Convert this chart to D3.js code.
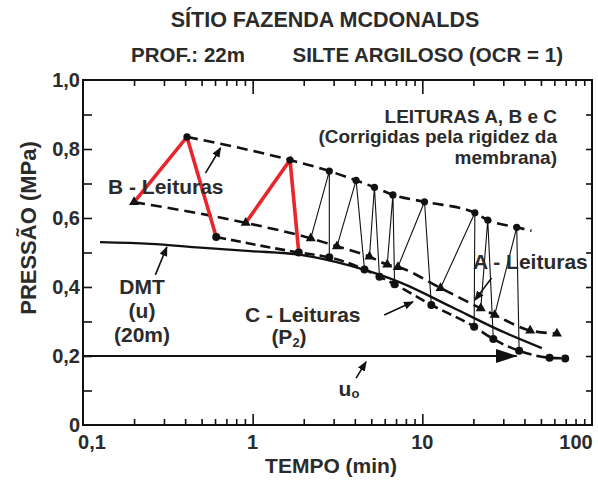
<!DOCTYPE html>
<html><head><meta charset="utf-8">
<script src="https://cdn.jsdelivr.net/npm/d3@7"></script>
<style>
body{margin:0;background:#fff}
svg{display:block}
text{font-family:"Liberation Sans",Arial,sans-serif;font-weight:bold;fill:#2b2b2b}
</style>
</head><body>
<svg id="chart" width="598" height="482"></svg>
<script>
// ---------- data ----------
const xTickValues = [0.1, 1, 10, 100];
const xTickLabels = ["0,1", "1", "10", "100"];
const yTickValues = [0, 0.2, 0.4, 0.6, 0.8, 1.0];
const yTickLabels = ["0", "0,2", "0,4", "0,6", "0,8", "1,0"];

// A readings (triangles)
const tA = [0.2, 0.91, 2.2, 3.14, 4.88, 6.21, 7.18, 12.8, 22.1, 26.7, 43.2, 62.1];
const pA = [0.646, 0.586, 0.541, 0.518, 0.488, 0.465, 0.458, 0.397, 0.338, 0.319, 0.274, 0.265];
// B readings (circles, upper curve)
const tB = [0.41, 1.66, 2.83, 4.07, 5.22, 6.71, 10.3, 20.4, 24.3, 36.0];
const pB = [0.835, 0.768, 0.736, 0.709, 0.689, 0.667, 0.647, 0.615, 0.594, 0.573];
const tBEnd = 44.0, pBEnd = 0.563;
// C readings (circles, lower curve)
const tC = [0.61, 1.87, 2.83, 4.56, 5.59, 6.86, 11.3, 20.2, 26.2, 37.2, 56.2, 69.5];
const pC = [0.545, 0.50, 0.486, 0.451, 0.430, 0.408, 0.348, 0.285, 0.249, 0.215, 0.195, 0.193];
// DMT (u) at 20 m
const tDMT = [0.126, 0.249, 0.492, 0.973, 1.92, 3.80, 7.51, 14.9, 29.3, 50.6];
const pDMT = [0.530, 0.525, 0.514, 0.504, 0.493, 0.461, 0.412, 0.342, 0.272, 0.223];
// u0 hydrostatic
const tU0 = [0.1, 36.0];
const pU0 = [0.2, 0.2];
const redCycles = 2;

// ---------- layout ----------
const svg = d3.select("#chart");
const x = d3.scaleLog().domain([0.1, 100]).range([83, 592]);
const y = d3.scaleLinear().domain([0, 1]).range([425, 80]);
const ink = "#111";

// markers
const defs = svg.append("defs");
defs.append("marker").attr("id", "ah").attr("viewBox", "0 0 10 10").attr("refX", 9).attr("refY", 5)
  .attr("markerWidth", 10).attr("markerHeight", 10).attr("markerUnits", "userSpaceOnUse").attr("orient", "auto")
  .append("path").attr("d", "M0,1 L10,5 L0,9 Z").attr("fill", ink);
defs.append("marker").attr("id", "big").attr("viewBox", "0 0 22 14").attr("refX", 21).attr("refY", 7)
  .attr("markerWidth", 22).attr("markerHeight", 14).attr("markerUnits", "userSpaceOnUse").attr("orient", "auto")
  .append("path").attr("d", "M0,0 L22,7 L0,14 Z").attr("fill", ink);

// ---------- frame & axes ----------
const minor = [];
[0.1, 1, 10].forEach(d => { for (let k = 2; k <= 9; k++) minor.push(d * k); });
const majorInner = [1, 10];
const yMinor = d3.range(1, 10).map(i => i / 10);

svg.append("rect").attr("x", x(0.1)).attr("y", y(1)).attr("width", x(100) - x(0.1)).attr("height", y(0) - y(1))
  .attr("fill", "none").attr("stroke", ink).attr("stroke-width", 2);

const axB = svg.append("g").attr("transform", `translate(0,${y(0)})`)
  .call(d3.axisBottom(x).tickValues(minor).tickSize(-6).tickFormat(""));
const axB2 = svg.append("g").attr("transform", `translate(0,${y(0)})`)
  .call(d3.axisBottom(x).tickValues(majorInner).tickSize(-11).tickFormat(""));
const axT = svg.append("g").attr("transform", `translate(0,${y(1)})`)
  .call(d3.axisTop(x).tickValues(minor).tickSize(-6).tickFormat(""));
const axT2 = svg.append("g").attr("transform", `translate(0,${y(1)})`)
  .call(d3.axisTop(x).tickValues(majorInner).tickSize(-14).tickFormat(""));
const axL = svg.append("g").attr("transform", `translate(${x(0.1)},0)`)
  .call(d3.axisLeft(y).tickValues(yMinor).tickSize(-9).tickFormat(""));
const axR = svg.append("g").attr("transform", `translate(${x(100)},0)`)
  .call(d3.axisRight(y).tickValues(yMinor).tickSize(-6).tickFormat(""));
[axB, axB2, axT, axT2, axL, axR].forEach(g => {
  g.select(".domain").remove();
  g.selectAll(".tick line").attr("stroke", ink).attr("stroke-width", 1.6);
});

// tick labels
svg.selectAll(".ylab").data(yTickValues).join("text").attr("class", "ylab")
  .attr("x", 80).attr("y", d => y(d)).attr("dy", "0.36em").attr("text-anchor", "end")
  .attr("font-size", 20).text((d, i) => yTickLabels[i]);
const xLabShift = [9, 0, 0, -16];
svg.selectAll(".xlab").data(xTickValues).join("text").attr("class", "xlab")
  .attr("x", (d, i) => x(d) + xLabShift[i]).attr("y", 449).attr("text-anchor", "middle")
  .attr("font-size", 20).text((d, i) => xTickLabels[i]);

// axis titles
svg.append("text").attr("x", 331).attr("y", 473).attr("text-anchor", "middle").attr("font-size", 21).text("TEMPO (min)");
svg.append("text").attr("transform", "translate(28,228) rotate(-90)").attr("dy", "0.36em")
  .attr("text-anchor", "middle").attr("font-size", 22).text("PRESSÃO (MPa)");

// titles
svg.append("text").attr("x", 325).attr("y", 27).attr("text-anchor", "middle").attr("font-size", 21.5).text("SÍTIO FAZENDA MCDONALDS");
svg.append("text").attr("x", 131).attr("y", 62).attr("font-size", 20.5).text("PROF.: 22m");
svg.append("text").attr("x", 563).attr("y", 62).attr("text-anchor", "end").attr("font-size", 20.5).text("SILTE ARGILOSO (OCR = 1)");

// ---------- curves ----------
const zip = (ts, ps) => ts.map((t, i) => [t, ps[i]]);
const A = zip(tA, pA), B = zip(tB, pB), C = zip(tC, pC);
const lineGen = d3.line().x(d => x(d[0])).y(d => y(d[1])).curve(d3.curveMonotoneX);
const straight = d3.line().x(d => x(d[0])).y(d => y(d[1]));

// DMT solid
svg.append("path").attr("d", lineGen(zip(tDMT, pDMT))).attr("fill", "none").attr("stroke", ink).attr("stroke-width", 2.4);
// u0
svg.append("path").attr("d", straight(zip(tU0, pU0))).attr("fill", "none").attr("stroke", ink)
  .attr("stroke-width", 2.2).attr("marker-end", "url(#big)");

// B upper dashed
svg.append("path").attr("d", lineGen(B.concat([[tBEnd, pBEnd]]))).attr("fill", "none").attr("stroke", ink)
  .attr("stroke-width", 2.6).attr("stroke-dasharray", "11,6");
// A dashed
svg.append("path").attr("d", lineGen(A)).attr("fill", "none").attr("stroke", ink)
  .attr("stroke-width", 2.6).attr("stroke-dasharray", "11,6");
// C dashed
svg.append("path").attr("d", lineGen(C)).attr("fill", "none").attr("stroke", ink)
  .attr("stroke-width", 2.6).attr("stroke-dasharray", "10,5");

// cycle lines A -> B -> C
tB.forEach((t, i) => {
  const red = i < redCycles;
  svg.append("path").attr("d", straight([A[i], B[i], C[i]])).attr("fill", "none")
    .attr("stroke", red ? "#e8262b" : ink).attr("stroke-width", red ? 3.6 : 1.1)
    .attr("stroke-linejoin", "miter");
});

// markers
svg.selectAll(".tri").data(A).join("path").attr("class", "tri")
  .attr("transform", d => `translate(${x(d[0])},${y(d[1])})`)
  .attr("d", d3.symbol(d3.symbolTriangle).size(44)).attr("fill", ink);
svg.selectAll(".cb").data(B).join("circle").attr("class", "cb")
  .attr("cx", d => x(d[0])).attr("cy", d => y(d[1])).attr("r", 3.6).attr("fill", ink);
svg.selectAll(".cc").data(C).join("circle").attr("class", "cc")
  .attr("cx", d => x(d[0])).attr("cy", d => y(d[1])).attr("r", 4).attr("fill", ink);

// ---------- annotations ----------
const arrows = [
  [0.527, 0.730, 0.647, 0.803],  // B
  [0.267, 0.435, 0.312, 0.516],  // DMT
  [5.96, 0.319, 8.81, 0.357],    // C
  [25.6, 0.426, 20.4, 0.362],    // A
  [4.07, 0.136, 4.66, 0.183]     // u0
];
arrows.forEach(a => {
  svg.append("line").attr("x1", x(a[0])).attr("y1", y(a[1])).attr("x2", x(a[2])).attr("y2", y(a[3]))
    .attr("stroke", ink).attr("stroke-width", 1.6).attr("marker-end", "url(#ah)");
});

const label = (tx, ty, s, anchor, size) => svg.append("text").attr("x", tx).attr("y", ty)
  .attr("text-anchor", anchor || "start").attr("font-size", size || 21).text(s);
label(557, 123, "LEITURAS A, B e C", "end", 19);
label(557, 143, "(Corrigidas pela rigidez da", "end", 19);
label(557, 164, "membrana)", "end", 19);
label(108, 194, "B - Leituras");
label(473, 269, "A - Leituras");
label(142, 294, "DMT", "middle");
label(142, 318, "(u)", "middle");
label(142, 342, "(20m)", "middle");
label(245, 322, "C - Leituras");
const p2 = svg.append("text").attr("x", 289).attr("y", 344).attr("text-anchor", "middle").attr("font-size", 21);
p2.append("tspan").text("(P");
p2.append("tspan").attr("font-size", 13).attr("dy", 3).text("2");
p2.append("tspan").attr("dy", -3).text(")");
const u0 = svg.append("text").attr("x", 349).attr("y", 396).attr("text-anchor", "middle").attr("font-size", 21);
u0.append("tspan").text("u");
u0.append("tspan").attr("font-size", 13).attr("dy", 2).text("o");
</script>
</body></html>
